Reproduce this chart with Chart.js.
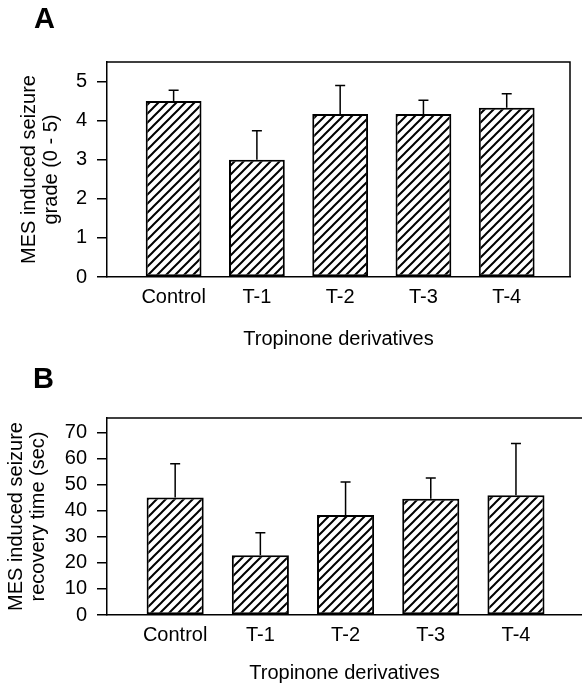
<!DOCTYPE html>
<html>
<head>
<meta charset="utf-8">
<script src="https://cdn.jsdelivr.net/npm/chart.js@4.4.1/dist/chart.umd.min.js"></script>
<style>
  body { margin: 0; background: #fff; width: 582px; height: 687px; position: relative; overflow: hidden; font-family: "Liberation Sans", Arial, sans-serif; }
  .panel { position: absolute; left: 0; width: 582px; }
  .letter { position: absolute; font-weight: bold; font-size: 29px; line-height: 1; z-index: 2; }
</style>
</head>
<body>
<div class="panel" style="top:0;height:350px"><canvas id="chartA"></canvas></div>
<div class="panel" style="top:350px;height:337px"><canvas id="chartB"></canvas></div>
<div class="letter" style="left:34px;top:4px">A</div>
<div class="letter" style="left:33px;top:364px">B</div>
<script>
// data
const categories = ['Control', 'T-1', 'T-2', 'T-3', 'T-4'];
const gradeMeans = [4.5, 3.0, 4.17, 4.17, 4.33];
const gradeErr = [0.28, 0.74, 0.73, 0.35, 0.36];
const gradeTicks = [0, 1, 2, 3, 4, 5];
const recoveryMeans = [45.0, 22.9, 38.3, 44.6, 45.9];
const recoveryErr = [13.0, 8.6, 12.7, 7.9, 19.8];
const recoveryTicks = [0, 10, 20, 30, 40, 50, 60, 70];

const font = { family: '"Liberation Sans", Arial, sans-serif', size: 20 };
const titleFont = { family: '"Liberation Sans", Arial, sans-serif', size: 20, lineHeight: 1.1 };

// "/" hatching for the bars
function hatch() {
    const s = 9;
    const c = document.createElement('canvas');
    c.width = s; c.height = s;
    const g = c.getContext('2d');
    g.fillStyle = '#fff';
    g.fillRect(0, 0, s, s);
    g.strokeStyle = '#000';
    g.lineWidth = 2;
    g.beginPath();
    g.moveTo(-1, s + 1); g.lineTo(s + 1, -1);
    g.moveTo(-1, 1); g.lineTo(1, -1);
    g.moveTo(s - 1, s + 1); g.lineTo(s + 1, s - 1);
    g.stroke();
    return g.createPattern(c, 'repeat');
}

// upper SD whiskers
const errorBars = {
    id: 'errorBars',
    afterDatasetsDraw(chart, args, opts) {
        const ctx = chart.ctx;
        const y = chart.scales.y;
        const ds = chart.data.datasets[0];
        ctx.save();
        ctx.strokeStyle = '#000';
        ctx.lineWidth = 1.5;
        chart.getDatasetMeta(0).data.forEach((bar, i) => {
            const top = y.getPixelForValue(ds.data[i].y + opts.errors[i]);
            ctx.beginPath();
            ctx.moveTo(bar.x, bar.y);
            ctx.lineTo(bar.x, top);
            ctx.moveTo(bar.x - opts.cap, top);
            ctx.lineTo(bar.x + opts.cap, top);
            ctx.stroke();
        });
        ctx.restore();
    }
};

// top (and optional right) side of the plot box
const frame = {
    id: 'frame',
    afterDraw(chart, args, opts) {
        const { left, right, top, bottom } = chart.chartArea;
        const ctx = chart.ctx;
        ctx.save();
        ctx.strokeStyle = '#000';
        ctx.lineWidth = 1.5;
        ctx.beginPath();
        ctx.moveTo(left, top);
        ctx.lineTo(right, top);
        if (opts.right) {
            ctx.lineTo(right, bottom);
        }
        ctx.stroke();
        ctx.restore();
    }
};

function makePanel(id, means, errs, yTicks, yMax, xMax, yTitle, p) {
    new Chart(document.getElementById(id), {
        type: 'bar',
        data: {
            datasets: [{
                data: means.map((v, i) => ({ x: i, y: v })),
                backgroundColor: hatch(),
                borderColor: '#000',
                borderWidth: 2,
                borderSkipped: false,
                barPercentage: 0.67,
                categoryPercentage: 1
            }]
        },
        options: {
            responsive: true,
            maintainAspectRatio: false,
            animation: false,
            events: [],
            layout: { padding: { top: p.top, right: p.right, left: 0, bottom: 0 } },
            plugins: {
                legend: { display: false },
                tooltip: { enabled: false },
                errorBars: { errors: errs, cap: 5 },
                frame: { right: p.frameRight }
            },
            scales: {
                x: {
                    type: 'linear',
                    min: -0.8,
                    max: xMax,
                    offset: false,
                    grid: { display: false, drawTicks: false, offset: false },
                    border: { display: true, color: '#000', width: 1.5 },
                    afterBuildTicks: s => { s.ticks = categories.map((c, i) => ({ value: i })); },
                    ticks: { color: '#000', font: font, padding: 8, maxRotation: 0, autoSkip: false, callback: v => categories[v] },
                    title: { display: true, text: 'Tropinone derivatives', color: '#000', font: titleFont, padding: { top: 0, bottom: p.xTitlePad } },
                    afterFit: s => { s.height = p.xHeight; }
                },
                y: {
                    min: 0,
                    max: yMax,
                    grid: { display: true, drawOnChartArea: false, drawTicks: true, tickLength: 10, color: '#000', lineWidth: 1.5 },
                    border: { display: true, color: '#000', width: 1.5 },
                    afterBuildTicks: s => { s.ticks = yTicks.map(v => ({ value: v })); },
                    ticks: { color: '#000', font: font, padding: 10 },
                    title: { display: true, text: yTitle, color: '#000', font: titleFont, padding: { top: p.yTitlePad, bottom: 0 } },
                    afterFit: s => { s.width = 107; }
                }
            }
        },
        plugins: [errorBars, frame]
    });
}

makePanel('chartA', gradeMeans, gradeErr, gradeTicks, 5.5, 4.76,
    ['MES induced seizure', 'grade (0 - 5)'],
    { top: 62, right: 12, xHeight: 73, xTitlePad: 0, yTitlePad: 18, frameRight: true });

makePanel('chartB', recoveryMeans, recoveryErr, recoveryTicks, 75.5, 4.775,
    ['MES induced seizure', 'recovery time (sec)'],
    { top: 68, right: 0, xHeight: 72, xTitlePad: 3, yTitlePad: 5, frameRight: false });
</script>
</body>
</html>
